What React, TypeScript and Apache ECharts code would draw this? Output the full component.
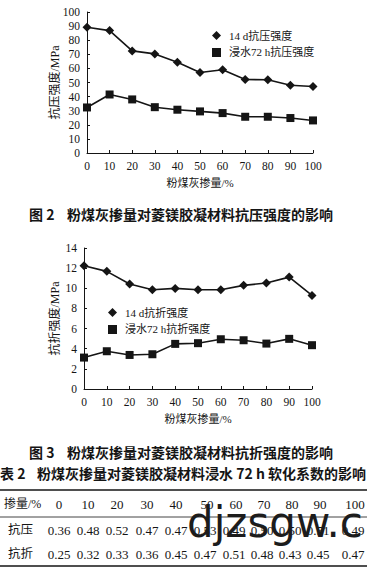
import React, { useEffect, useRef } from "react";
import * as echarts from "echarts";

const xValues = [0, 10, 20, 30, 40, 50, 60, 70, 80, 90, 100];
const compress14d = [89.2, 86.8, 72.4, 70.3, 64.4, 57.1, 59, 52.1, 51.9, 48.1, 47.2];
const compress72h = [32.3, 41.5, 38, 32.5, 30.7, 29.5, 28.3, 25.7, 25.7, 24.8, 23.1];
const flex14d = [12.24, 11.68, 10.42, 9.85, 9.99, 9.85, 9.85, 10.29, 10.52, 11.11, 9.29];
const flex72h = [3.12, 3.75, 3.38, 3.45, 4.48, 4.55, 4.94, 4.84, 4.51, 4.98, 4.35];

const seriesNames = ["14 d抗压强度", "浸水72 h抗压强度", "14 d抗折强度", "浸水72 h抗折强度"];

const tableHeaderLabel = "掺量/%";
const tableRowLabels = ["抗压", "抗折"];
const softCompress = ["0.36", "0.48", "0.52", "0.47", "0.47", "0.53", "0.49", "0.50", "0.50", "0.51", "0.49"];
const softFlex = ["0.25", "0.32", "0.33", "0.36", "0.45", "0.47", "0.51", "0.48", "0.43", "0.45", "0.47"];

const caption2 = ["图 2", "粉煤灰掺量对菱镁胶凝材料抗压强度的影响"];
const caption3 = ["图 3", "粉煤灰掺量对菱镁胶凝材料抗折强度的影响"];
const tableCaption = ["表 2", "粉煤灰掺量对菱镁胶凝材料浸水 72 h 软化系数的影响"];
const watermark = "djzsgw.c";

const SERIF = "Liberation Serif, Noto Sans CJK SC, serif";
const CJK = "Noto Sans CJK SC, sans-serif";
const INK = "#151515";

function makeAxes(gridIndex: number, yMax: number, yInterval: number, yName: string, nameGap: number) {
  const xAxis = {
    gridIndex,
    type: "value",
    min: 0,
    max: 100,
    interval: 10,
    axisLine: { show: true, lineStyle: { color: INK, width: 1 } },
    axisTick: { show: true, inside: true, length: 3, lineStyle: { color: INK } },
    splitLine: { show: false },
    axisLabel: { color: INK, fontSize: 11.5, fontFamily: SERIF, margin: 7 },
    name: "粉煤灰掺量/%",
    nameLocation: "middle",
    nameGap: 24,
    nameMoveOverlap: false,
    nameTextStyle: { color: INK, fontSize: 11, fontFamily: SERIF },
  };
  const yAxis = {
    gridIndex,
    type: "value",
    min: 0,
    max: yMax,
    interval: yInterval,
    axisLine: { show: true, lineStyle: { color: INK, width: 1 } },
    axisTick: { show: true, inside: true, length: 3, lineStyle: { color: INK } },
    splitLine: { show: false },
    axisLabel: { color: INK, fontSize: 11.5, fontFamily: SERIF, margin: 7 },
    name: yName,
    nameLocation: "middle",
    nameGap,
    nameMoveOverlap: false,
    nameTextStyle: { color: INK, fontSize: 12, fontFamily: SERIF },
  };
  return { xAxis, yAxis };
}

function lineSeries(name: string, idx: number, data: number[], symbol: string, size: number) {
  return {
    name,
    type: "line",
    xAxisIndex: idx,
    yAxisIndex: idx,
    data: xValues.map((x, i) => [x, data[i]]),
    symbol,
    symbolSize: size,
    showSymbol: true,
    lineStyle: { color: INK, width: 1.6 },
    itemStyle: { color: INK, borderWidth: 0 },
    emphasis: { disabled: true },
  };
}

export default function App() {
  const ref = useRef<HTMLDivElement>(null);

  useEffect(() => {
    if (!ref.current) return;
    const chart = echarts.init(ref.current, undefined, { renderer: "svg" });

    const a1 = makeAxes(0, 100, 10, "抗压强度/MPa", 26);
    const a2 = makeAxes(1, 14, 2, "抗折强度/MPa", 23);

    const colCenters = [59, 88, 117, 147, 176, 205, 234, 262, 290, 318, 353];
    const graphic: any[] = [];

    const capText = (text: string, x: number, y: number, weight: string, size = 14) => ({
      type: "text",
      x,
      y,
      silent: true,
      style: { text, fill: INK, fontSize: size, fontWeight: weight, fontFamily: CJK, align: "left", verticalAlign: "middle" },
    });

    graphic.push(capText(caption2[0], 29, 214, "bold"));
    graphic.push(capText(caption2[1], 67, 214, "bold"));
    graphic.push(capText(caption3[0], 29, 452, "bold"));
    graphic.push(capText(caption3[1], 67, 452, "bold"));
    graphic.push(capText(tableCaption[0], 0, 473, "bold"));
    graphic.push(capText(tableCaption[1], 37, 473, "bold"));

    const rule = (y: number, w: number) => ({
      type: "line",
      silent: true,
      shape: { x1: 0, y1: y, x2: 367, y2: y },
      style: { stroke: INK, lineWidth: w },
    });
    graphic.push(rule(490, 1.6));
    graphic.push(rule(517, 0.8));
    graphic.push(rule(566, 1.6));

    const cell = (text: string, x: number, y: number, align = "center", family = SERIF, size = 13) => ({
      type: "text",
      x,
      y,
      silent: true,
      style: { text, fill: INK, fontSize: size, fontFamily: family, align, verticalAlign: "middle" },
    });

    graphic.push(cell(tableHeaderLabel, 4, 504, "left", SERIF, 12));
    xValues.forEach((v, i) => graphic.push(cell(String(v), colCenters[i] + (i >= 5 ? 2 : 0), 504)));
    graphic.push(cell(tableRowLabels[0], 8, 530, "left", SERIF, 12.5));
    graphic.push(cell(tableRowLabels[1], 8, 554, "left", SERIF, 12.5));
    softCompress.forEach((v, i) => graphic.push(cell(v, colCenters[i], 530)));
    softFlex.forEach((v, i) => graphic.push(cell(v, colCenters[i], 554)));

    graphic.push({
      type: "text",
      x: 187,
      y: 501,
      silent: true,
      z: 100,
      style: {
        text: watermark,
        fill: "#1c1c1c",
        fontSize: 42,
        fontFamily: "DejaVu Sans, sans-serif",
        align: "left",
        verticalAlign: "top",
      },
    });

    const legendCommon = {
      orient: "vertical",
      itemWidth: 9,
      itemHeight: 9,
      itemGap: 6,
      selectedMode: false,
      textStyle: { color: INK, fontSize: 11, fontFamily: SERIF, padding: [0, 0, 0, 3] },
    };

    chart.setOption({
      animation: false,
      backgroundColor: "#ffffff",
      grid: [
        { left: 87, right: 54, top: 12, bottom: 416, containLabel: false },
        { left: 84, right: 55, top: 248, bottom: 180, containLabel: false },
      ],
      xAxis: [a1.xAxis, a2.xAxis],
      yAxis: [a1.yAxis, a2.yAxis],
      legend: [
        {
          ...legendCommon,
          left: 207,
          top: 25,
          data: [
            { name: seriesNames[0], icon: "diamond" },
            { name: seriesNames[1], icon: "rect" },
          ],
        },
        {
          ...legendCommon,
          left: 103,
          top: 302,
          data: [
            { name: seriesNames[2], icon: "diamond" },
            { name: seriesNames[3], icon: "rect" },
          ],
        },
      ],
      series: [
        lineSeries(seriesNames[0], 0, compress14d, "diamond", 9),
        lineSeries(seriesNames[1], 0, compress72h, "rect", 8),
        lineSeries(seriesNames[2], 1, flex14d, "diamond", 9),
        lineSeries(seriesNames[3], 1, flex72h, "rect", 8),
      ],
      graphic,
    });

    return () => chart.dispose();
  }, []);

  return (
    <div
      ref={ref}
      style={{ position: "absolute", left: 0, top: 0, width: 367, height: 569, background: "#fff" }}
    />
  );
}
